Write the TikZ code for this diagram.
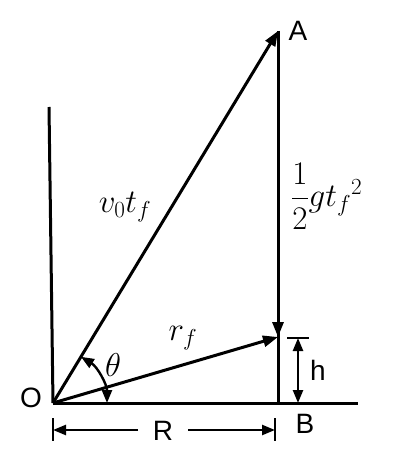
\RequirePackage{fix-cm}
\documentclass[tikz,border=0pt]{standalone}
\usepackage{fontspec}
\setmainfont{Liberation Sans}
\usepackage{amsmath}
\usetikzlibrary{arrows.meta,calc}
\begin{document}
\begin{tikzpicture}[x=1pt,y=-1pt,
  ln/.style={line width=3pt},
  thin/.style={line width=2.4pt},
  arr/.style={-{Triangle[length=15pt,width=11pt]}},
  darr/.style={{Triangle[length=13pt,width=10pt]}-{Triangle[length=13pt,width=10pt]}},
  lbl/.style={inner sep=0pt,font=\fontsize{28}{28}\selectfont},
  mlbl/.style={inner sep=0pt,font=\fontsize{33}{33}\selectfont}]
\useasboundingbox (0,0) rectangle (402,468);
\coordinate (O) at (53,403);
\coordinate (A) at (278,31);
\coordinate (P) at (278,337);
\coordinate (B) at (278,403);
\coordinate (G) at (358,403);
\coordinate (Y) at (49,107);
% axes
\draw[ln] (O) -- (Y);
\draw[ln] (O) -- (G);
% vertical line A to B
\draw[ln] (A) -- (B);
\draw[ln,arr] (A) -- (P);
% v0 tf and rf
\draw[ln,arr] (O) -- (A);
\draw[ln,arr] (O) -- (P);
% angle
\draw[thin,darr] ($(O)+(-58.8:54)$) arc[start angle=-58.8,end angle=0,radius=54];
% h dimension
\coordinate (h1) at (298,338);
\coordinate (h2) at (298,403);
\draw[thin] (287,338) -- (309,338);
\draw[thin,darr] (h1) -- (h2);
% R dimension
\coordinate (r1) at (53,430);
\coordinate (r2) at (275,430);
\draw[thin] (53,418) -- (53,441);
\draw[thin] (275,418) -- (275,441);
\node[lbl] (R) at (163,431) {R};
\draw[thin,-{Triangle[length=13pt,width=10pt]}] (138,430) -- (r1);
\draw[thin,-{Triangle[length=13pt,width=10pt]}] (188,430) -- (r2);
% labels
\node[lbl] (Ol) at (31,398) {O};
\node[lbl] (Al) at (298,31) {A};
\node[lbl] (Bl) at (305,424) {B};
\node[lbl] (hl) at (318,370) {h};
\node[mlbl] (th) at (113,365) {$\theta$};
\node[mlbl] (rf) at (183,338) {$r_f$};
\node[mlbl] (vt) at (125,207) {$v_0t_f$};
\node[mlbl,anchor=west] (gt) at (291,196) {$\dfrac{1}{2}gt_f{}^2$};
\end{tikzpicture}
\end{document}
